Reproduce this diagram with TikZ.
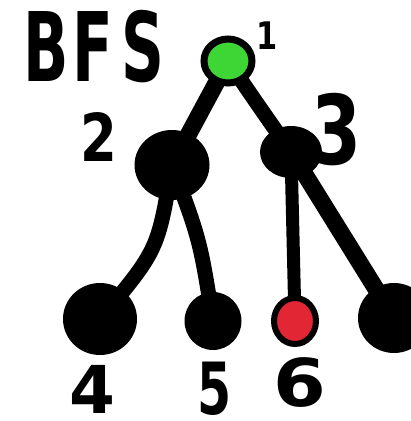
\documentclass[tikz,border=0pt]{standalone}
\usepackage{fontspec}
\setmainfont{DejaVu Sans}
\usetikzlibrary{shapes.geometric,backgrounds}
\definecolor{visitgreen}{RGB}{62,214,52}
\definecolor{targetred}{RGB}{226,38,52}
\tikzset{
  vertex/.style={ellipse, fill=black, inner sep=0pt},
  tag/.style={inner sep=0pt, transform shape},
  branch/.style={line width=15pt, line cap=round, black}
}
\begin{document}
\begin{tikzpicture}[x=1pt,y=-1pt]
\useasboundingbox (0,0) rectangle (411,421);
\clip (0,0) rectangle (411,421);

% title
\node[tag, xscale=0.62, font={\bfseries\fontsize{96}{96}\selectfont}] (title) at (94,47) {B\kern6pt F\kern14pt S};

% tree vertices
\node[vertex, draw=black, line width=7pt, fill=visitgreen, minimum width=48pt, minimum height=44pt] (n1) at (228,61) {};
\node[vertex, minimum width=75pt, minimum height=70pt] (n2) at (172,165) {};
\node[vertex, minimum width=62pt, minimum height=52pt] (n3) at (291,152) {};
\node[vertex, minimum width=74pt, minimum height=72pt] (n4) at (100,319) {};
\node[vertex, minimum width=57pt, minimum height=58pt] (n5) at (213,321) {};
\node[vertex, draw=black, line width=6pt, fill=targetred, minimum width=42pt, minimum height=46pt] (n6) at (295,321) {};
\node[vertex, minimum width=72pt, minimum height=70pt] (n7) at (394,318) {};

% vertex numbers
\node[tag, xscale=0.8, font={\bfseries\fontsize{38}{38}\selectfont}] (t1) at (267,36) {1};
\node[tag, xscale=0.8, font={\bfseries\fontsize{66}{66}\selectfont}] (t2) at (99,137) {2};
\node[tag, xscale=0.75, font={\bfseries\fontsize{96}{96}\selectfont}] (t3) at (337,130) {3};
\node[tag, xscale=1.0, font={\bfseries\fontsize{66}{66}\selectfont}] (t4) at (92,389) {4};
\node[tag, xscale=0.68, font={\bfseries\fontsize{72}{72}\selectfont}] (t5) at (215,389) {5};
\node[tag, xscale=1.15, font={\bfseries\fontsize{66}{66}\selectfont}] (t6) at (300,383) {6};

% white sheet and edges, behind the vertices
\begin{pgfonlayer}{background}
\fill[white] (0,0) rectangle (411,421);
\draw[branch, line width=17pt] (n1.center) -- (n2.center);
\draw[branch] (n1.center) .. controls (258,105) .. (n3.center);
\draw[branch] (n2.center) .. controls (158,250) .. (n4.center);
\draw[branch] (n2.center) .. controls (200,240) .. (n5.center);
\draw[branch, line width=13pt] (n3.center) -- (n6.center);
\draw[branch, line width=17pt] (n3.center) -- (n7.center);
\end{pgfonlayer}
\end{tikzpicture}
\end{document}
